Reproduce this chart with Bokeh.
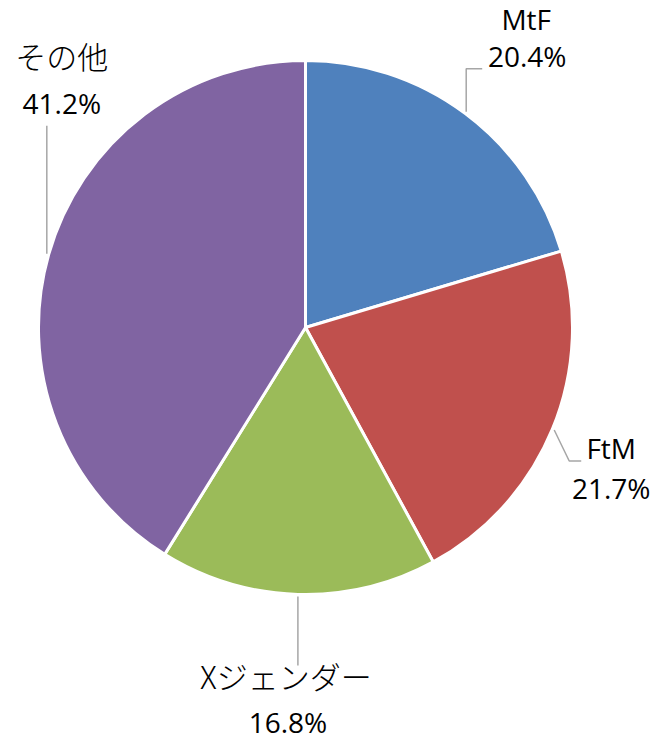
import math
from bokeh.plotting import figure
from bokeh.models import Range1d
from bokeh.core.properties import value
from bokeh.embed import file_html
from bokeh.resources import INLINE

categories = ["MtF", "FtM", "Xジェンダー", "その他"]
shares = [20.4, 21.7, 16.8, 41.2]
pct_labels = ["20.4%", "21.7%", "16.8%", "41.2%"]
colors = ["#4F81BD", "#C0504D", "#9BBB59", "#8064A2"]

W, H = 668, 741
cx, cy_img, R = 305, 327, 267

def Y(yimg):
    return H - yimg

p = figure(width=W, height=H, x_range=Range1d(0, W), y_range=Range1d(0, H),
           output_backend="svg", toolbar_location=None, min_border=0)
p.axis.visible = False
p.grid.visible = False
p.outline_line_color = None
p.background_fill_color = "white"
p.border_fill_color = "white"

total = sum(shares)
starts, ends, mids = [], [], []
a = 90.0
for s in shares:
    span = 360.0 * s / total
    starts.append(math.radians(a))
    ends.append(math.radians(a - span))
    mids.append(a - span / 2)
    a -= span

p.wedge(x=[cx] * 4, y=[Y(cy_img)] * 4, radius=R, start_angle=starts, end_angle=ends,
        direction="clock", fill_color=colors,
        line_color="white", line_width=3)

# leader-line anchor points at slice edges
rl = R + 2
edges = [(cx + rl * math.cos(math.radians(m)), cy_img - rl * math.sin(math.radians(m))) for m in mids]

# per-label leader path offsets and label offsets (image px, relative to edge point)
paths = [
    [(0, 0), (0, -43), (16, -43)],
    [(0, 0), (15, 31), (27, 31)],
    [(0, 0), (0, 69)],
    [(0, 0), (0, -128)],
]
shift = -13
name_off = [(60, -80 + shift), (57, 31 + shift), (-12, 92 + shift), (15, -185 + shift)]
pct_off = [(61, -43 + shift), (57, 71 + shift), (-10, 139 + shift), (15, -138 + shift)]
jp_font = "'Noto Sans CJK JP Light', 'Noto Sans CJK JP DemiLight', 'Noto Sans CJK JP'"
name_fonts = ["Open Sans", "Open Sans", jp_font, jp_font]
name_sizes = ["28px", "28px", "31px", "31px"]

for (ex, ey), path in zip(edges, paths):
    p.line(x=[ex + dx for dx, dy in path], y=[Y(ey + dy) for dx, dy in path],
           line_color="#A6A6A6", line_width=1.5)

for i, (ex, ey) in enumerate(edges):
    p.text(x=[ex + name_off[i][0]], y=[Y(ey + name_off[i][1])], text=[categories[i]],
           text_font=value(name_fonts[i]), text_font_size=name_sizes[i],
           text_align="center", text_baseline="alphabetic", text_color="#000000")
    p.text(x=[ex + pct_off[i][0]], y=[Y(ey + pct_off[i][1])], text=[pct_labels[i]],
           text_font=value("Open Sans"), text_font_size="28px",
           text_align="center", text_baseline="alphabetic", text_color="#000000")

open("out.html", "w").write(file_html(p, INLINE))
